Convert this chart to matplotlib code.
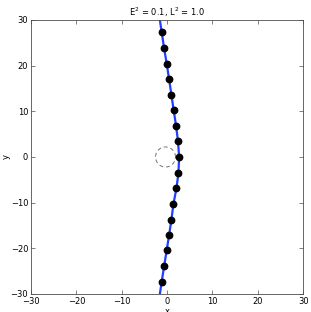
import matplotlib
matplotlib.use("Agg")
import matplotlib.pyplot as plt
import numpy as np

# trajectory points
dot_x = [-1.19, -0.66, -0.09, 0.44, 0.95, 1.45, 1.98, 2.4, 2.65,
         2.5, 2.05, 1.39, 0.95, 0.44, -0.09, -0.66, -1.19]
dot_y = [27.3, 23.8, 20.4, 17.0, 13.6, 10.2, 6.8, 3.4, 0.0,
         -3.5, -6.9, -10.3, -13.7, -17.1, -20.4, -23.9, -27.3]
line_x = [-1.6] + dot_x + [-1.6]
line_y = [30.0] + dot_y + [-30.0]

circle_center = (-0.35, 0.0)
circle_radius = 2.2

fig = plt.figure(figsize=(3.11, 3.12), dpi=100)
ax = fig.add_axes([0.0997, 0.0577, 0.8753, 0.8783])

ax.plot(line_x, line_y, color=(0.12, 0.25, 1.0), linewidth=1.6, zorder=2)
ax.plot(dot_x, dot_y, 'o', color='black', markersize=4.6, zorder=3)

t = np.linspace(0, 2 * np.pi, 200)
ax.plot(circle_center[0] + circle_radius * np.cos(t),
        circle_center[1] + circle_radius * np.sin(t),
        linestyle=(0, (4, 3)), color='0.45', linewidth=0.7, zorder=1)

ax.set_xlim(-30, 30)
ax.set_ylim(-30, 30)
ax.set_xticks(np.arange(-30, 31, 10))
ax.set_yticks(np.arange(-30, 31, 10))
ax.tick_params(direction='in', top=True, right=True, labelsize=6, length=3,
               width=0.5, color='0.3', pad=2)
for s in ax.spines.values():
    s.set_linewidth(0.6)
    s.set_color('0.3')

ax.set_title("E$^2$ = 0.1, L$^2$ = 1.0", fontsize=6, pad=3)
ax.set_xlabel("x", fontsize=6, labelpad=1)
ax.set_ylabel("y", fontsize=6)
ax.yaxis.set_label_coords(-0.075, 0.5)

fig.savefig("out.png", dpi=100)
